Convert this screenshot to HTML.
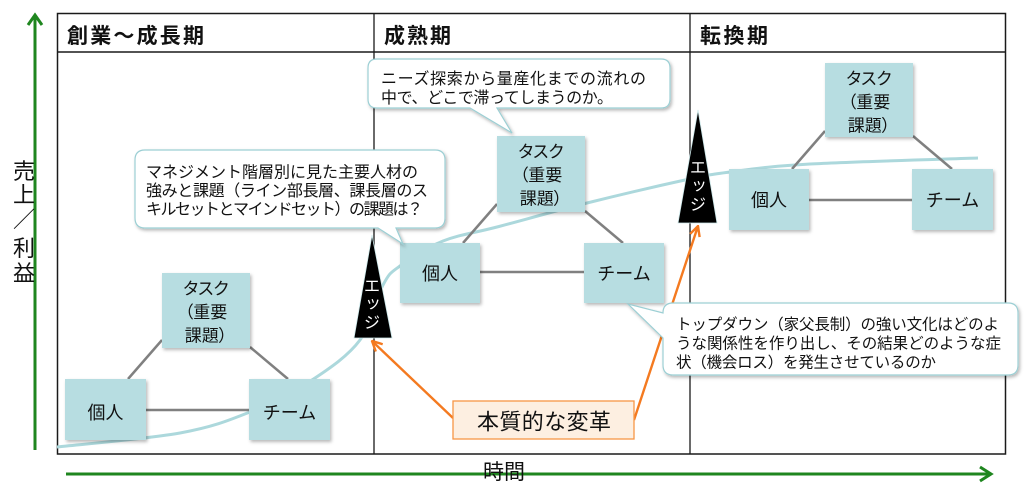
<!DOCTYPE html>
<html><head><meta charset="utf-8">
<style>
html,body{margin:0;padding:0;background:#fff;}
#c{position:relative;width:1024px;height:493px;overflow:hidden;background:#fff;font-family:"Liberation Sans","Noto Sans CJK JP",sans-serif;}
svg{position:absolute;left:0;top:0;}
svg text{font-family:"Liberation Sans","Noto Sans CJK JP",sans-serif;fill:#111;}
</style></head><body><div id="c">
<svg width="1024" height="493" viewBox="0 0 1024 493">
<defs>
<filter id="sh" x="-10%" y="-10%" width="130%" height="140%"><feDropShadow dx="1.5" dy="2" stdDeviation="1.5" flood-color="#000" flood-opacity="0.28"/></filter>
<marker id="ao" viewBox="0 0 12 12" refX="11" refY="6" markerWidth="12" markerHeight="12" markerUnits="userSpaceOnUse" orient="auto"><path d="M1,1 L11,6 L1,11" fill="none" stroke="#f47a20" stroke-width="2.4"/></marker>
</defs>

<!-- table -->
<rect x="57.5" y="13.5" width="948" height="440.5" fill="#fff" stroke="#1a1a1a" stroke-width="1.5"/>
<line x1="57" y1="52" x2="1006" y2="52" stroke="#1a1a1a" stroke-width="1.5"/>
<line x1="374" y1="13" x2="374" y2="454" stroke="#1a1a1a" stroke-width="1.3"/>
<line x1="690" y1="13" x2="690" y2="454" stroke="#1a1a1a" stroke-width="1.3"/>

<!-- curve -->
<path d="M57,447 C77.5,444.7 147.8,438.8 180,433 C212.2,427.2 228,420.8 250,412 C272,403.2 293.7,392 312,380 C330.3,368 348.2,355.8 360,340 C371.8,324.2 376.3,297.3 383,285 C389.7,272.7 390,273.3 400,266 C410,258.7 426.8,247.5 443,241 C459.2,234.5 473,233.3 497,227 C521,220.7 555.7,210.8 587,203 C618.3,195.2 661.2,185.2 685,180 C708.8,174.8 709.2,174.7 730,172 C750.8,169.3 768.7,166.3 810,164 C851.3,161.7 950,159 978,158" fill="none" stroke="#acd8dc" stroke-width="3"/>

<!-- connectors -->
<g stroke="#808080" stroke-width="2.5">
<line x1="162" y1="340" x2="128" y2="379"/>
<line x1="250" y1="347" x2="288" y2="379"/>
<line x1="146" y1="410" x2="249" y2="410"/>
<line x1="497" y1="204" x2="463" y2="243"/>
<line x1="585" y1="211" x2="623" y2="243"/>
<line x1="480" y1="272" x2="584" y2="272"/>
<line x1="825" y1="131" x2="792" y2="169"/>
<line x1="913" y1="136" x2="952" y2="169"/>
<line x1="809" y1="200" x2="912" y2="200"/>
</g>

<!-- boxes -->
<g fill="#b7dde1" filter="url(#sh)">
<rect x="162" y="273" width="88" height="75"/>
<rect x="65" y="379" width="81" height="61"/>
<rect x="249" y="379" width="81" height="61"/>
<rect x="497" y="136" width="88" height="76"/>
<rect x="400" y="243" width="80" height="60"/>
<rect x="584" y="243" width="80" height="60"/>
<rect x="825" y="63" width="88" height="74"/>
<rect x="729" y="169" width="80" height="61"/>
<rect x="912" y="169" width="81" height="61"/>
</g>

<!-- edge triangles -->
<polygon points="372,235 392,338 354,338" fill="#000" stroke="#cde8ea" stroke-width="0.8"/>
<polygon points="698,110 717,223 678,223" fill="#000" stroke="#cde8ea" stroke-width="0.8"/>
<g font-size="16" text-anchor="middle" style="fill:#fff">
<text x="372" y="291.5" style="fill:#fff">エ</text>
<text x="373" y="308" style="fill:#fff">ッ</text>
<text x="372" y="328" style="fill:#fff">ジ</text>
<text x="698" y="173" style="fill:#fff">エ</text>
<text x="699" y="190" style="fill:#fff">ッ</text>
<text x="698" y="210" style="fill:#fff">ジ</text>
</g>

<!-- orange arrows -->
<line x1="453" y1="418" x2="372" y2="341" stroke="#f47a20" stroke-width="2.4" marker-end="url(#ao)"/>
<line x1="634" y1="420" x2="698" y2="226" stroke="#f47a20" stroke-width="2.4" marker-end="url(#ao)"/>

<!-- callouts -->
<g fill="#fff" stroke="#9ccfd4" stroke-width="1.2" filter="url(#sh)">
<path d="M377,59 H661 Q670,59 670,68 V99 Q670,108 661,108 H497 L512,133 L470,108 H377 Q368,108 368,99 V68 Q368,59 377,59 Z"/>
<path d="M145,150 H435 Q445,150 445,160 V218 Q445,228 435,228 H396 L403,244 L378,228 H145 Q135,228 135,218 V160 Q135,150 145,150 Z"/>
<path d="M673,303 H1008 Q1018,303 1018,313 V365 Q1018,375 1008,375 H673 Q663,375 663,365 V338 L628,304 L663,313 Q663,303 673,303 Z"/>
</g>

<!-- key box -->
<rect x="453" y="401" width="181" height="38" fill="#fdefe1" stroke="#f79646" stroke-width="1.3"/>

<!-- green axes -->
<g stroke="#1f861f" stroke-width="3" fill="none">
<line x1="35" y1="450" x2="35" y2="15"/>
<polyline points="28,25 35,15 42,25"/>
<line x1="66" y1="474" x2="990" y2="474"/>
<polyline points="980,467 991,474 980,481"/>
</g>

<!-- headers -->
<text x="67" y="43" font-size="21" font-weight="bold" textLength="137" lengthAdjust="spacing">創業〜成長期</text>
<text x="384" y="43" font-size="21" font-weight="bold" textLength="67" lengthAdjust="spacing">成熟期</text>
<text x="700" y="43" font-size="21" font-weight="bold" textLength="68" lengthAdjust="spacing">転換期</text>

<!-- callout texts -->
<g style="fill:#000">
<text x="381" y="84" font-size="16" textLength="265" lengthAdjust="spacing">ニーズ探索から量産化までの流れの</text>
<text x="381" y="103" font-size="16" textLength="232" lengthAdjust="spacing">中で、どこで滞ってしまうのか。</text>

<text x="146" y="177.5" font-size="16" textLength="272" lengthAdjust="spacing">マネジメント階層別に見た主要人材の</text>
<text x="146" y="196" font-size="16" textLength="282" lengthAdjust="spacing">強みと課題（ライン部長層、課長層のス</text>
<text x="146" y="214.5" font-size="16" textLength="277" lengthAdjust="spacing">キルセットとマインドセット）の課題は？</text>

<text x="676" y="329.5" font-size="15.5" textLength="323" lengthAdjust="spacing">トップダウン（家父長制）の強い文化はどのよ</text>
<text x="676" y="348.5" font-size="15.5" textLength="325" lengthAdjust="spacing">うな関係性を作り出し、その結果どのような症</text>
<text x="676" y="367.5" font-size="15.5" textLength="260" lengthAdjust="spacing">状（機会ロス）を発生させているのか</text>
</g>

<!-- box texts -->
<g font-size="17" text-anchor="middle" style="font-feature-settings:'palt'">
<text x="206" y="294.5">タスク</text>
<text x="206" y="318">（重要</text>
<text x="206" y="341.5">課題）</text>
<text x="541" y="157.5">タスク</text>
<text x="541" y="181">（重要</text>
<text x="541" y="204.5">課題）</text>
<text x="869" y="84.5">タスク</text>
<text x="869" y="108">（重要</text>
<text x="869" y="131.5">課題）</text>
</g>
<g font-size="18" text-anchor="middle">
<text x="105.5" y="419">個人</text>
<text x="289.5" y="419">チーム</text>
<text x="440" y="280">個人</text>
<text x="624" y="280">チーム</text>
<text x="769" y="206.5">個人</text>
<text x="952.5" y="206.5">チーム</text>
</g>

<text x="477" y="429.5" font-size="22" textLength="134" lengthAdjust="spacing">本質的な変革</text>
<text x="504" y="479" font-size="21" text-anchor="middle">時間</text>

<g font-size="22" text-anchor="middle">
<text x="24" y="179">売</text>
<text x="24" y="202.5">上</text>
<text x="24" y="227">／</text>
<text x="24" y="256">利</text>
<text x="24" y="281">益</text>
</g>
</svg>
</div></body></html>
